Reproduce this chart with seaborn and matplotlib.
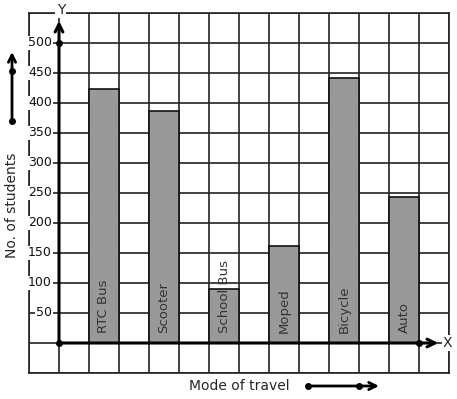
import matplotlib
matplotlib.use("Agg")
import matplotlib.pyplot as plt
import seaborn as sns
import pandas as pd
import numpy as np

# ---- data ----
modes = ["RTC Bus", "Scooter", "School Bus", "Moped", "Bicycle", "Auto"]
students = [423, 387, 90, 162, 441, 243]
ytick_values = [50, 100, 150, 200, 250, 300, 350, 400, 450, 500]
ytick_labels = [str(v) for v in ytick_values]

sns.set_style("white")
plt.rcParams['font.family'] = ['DejaVu Sans']

W, H = 457, 399
fig = plt.figure(figsize=(W / 100, H / 100), dpi=100)
ax = fig.add_axes([29 / W, 26 / H, 420 / W, 360 / H])

df = pd.DataFrame({"mode": modes, "students": students})
sns.barplot(data=df, x="mode", y="students", ax=ax, color="#999999",
            saturation=1, width=0.5, edgecolor="#111111", linewidth=1.2,
            zorder=2)

gridc = "#222222"
ax.set_xlim(-1.25, 5.75)
ax.set_ylim(-50, 550)
ax.set_xticks(np.arange(-1.25, 5.76, 0.5))
ax.set_yticks(np.arange(-50, 551, 50))
ax.tick_params(length=0, labelbottom=False, labelleft=False)
ax.grid(True, color=gridc, lw=1.2)
ax.set_axisbelow(True)
ax.set_xlabel("")
ax.set_ylabel("")
for s in ax.spines.values():
    s.set_visible(True)
    s.set_color(gridc)
    s.set_linewidth(1.2)

x0 = -0.75  # y-axis position
arrow = dict(arrowstyle="->", lw=2.2, color="black", mutation_scale=14,
             shrinkA=0, shrinkB=0)
ax.annotate("", xy=(x0, 537), xytext=(x0, 0), arrowprops=arrow,
            annotation_clip=False, zorder=5)
ax.annotate("", xy=(5.57, 0), xytext=(x0, 0), arrowprops=arrow,
            annotation_clip=False, zorder=5)
ax.plot([x0, x0, 5.25], [0, 500, 0], "o", ms=4, color="black", zorder=6,
        clip_on=False)

for v, lab in zip(ytick_values, ytick_labels):
    ax.annotate(lab, xy=(x0, v), xytext=(-7, 0), textcoords="offset pixels",
                ha="right", va="center", fontsize=9, color="#111",
                bbox=dict(boxstyle="square,pad=0.05", fc="white", ec="none"),
                zorder=4)

for i, m in enumerate(modes):
    ax.text(i, 17, m, rotation=90, ha="center", va="bottom", fontsize=9.5,
            color="#333333", zorder=4)

ax.text(-0.72, 555, "Y", ha="center", va="center", fontsize=10, clip_on=False,
        bbox=dict(boxstyle="square,pad=0.1", fc="white", ec="none"), zorder=6)
ax.text(5.73, 0, "X", ha="center", va="center", fontsize=10, clip_on=False,
        bbox=dict(boxstyle="square,pad=0.1", fc="white", ec="none"), zorder=6)

# axis titles with arrows
fig.text(12 / W, 1 - 205 / H, "No. of students", rotation=90, ha="center",
         va="center", fontsize=10)
fig.text(189 / W, 1 - 386 / H, "Mode of travel", ha="left", va="center",
         fontsize=10)

tf = fig.transFigure
ax.annotate("", xy=(12 / W, 1 - 52 / H), xytext=(12 / W, 1 - 121 / H),
            xycoords=tf, textcoords=tf,
            arrowprops=dict(arrowstyle="->", lw=2, color="black",
                            mutation_scale=13, shrinkA=0, shrinkB=0))
ax.annotate("", xy=(379 / W, 1 - 386 / H), xytext=(308 / W, 1 - 386 / H),
            xycoords=tf, textcoords=tf,
            arrowprops=dict(arrowstyle="->", lw=2, color="black",
                            mutation_scale=13, shrinkA=0, shrinkB=0))
ax.plot([12 / W, 12 / W], [1 - 121 / H, 1 - 71 / H], "o", ms=4,
        color="black", transform=tf, clip_on=False)
ax.plot([308 / W, 359 / W], [1 - 386 / H, 1 - 386 / H], "o", ms=4,
        color="black", transform=tf, clip_on=False)

fig.savefig("out.png", dpi=100)
